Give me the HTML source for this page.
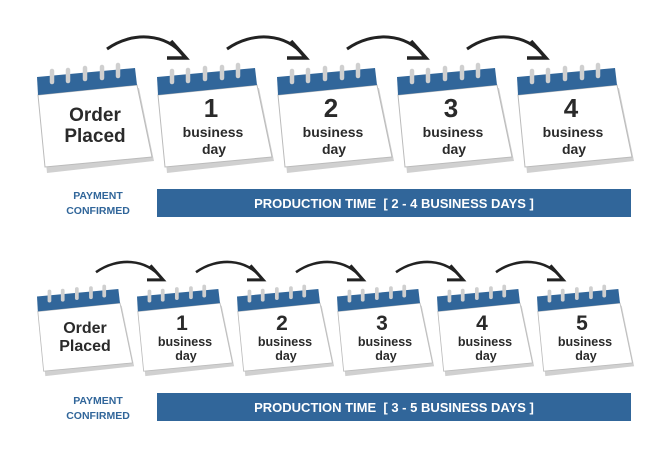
<!DOCTYPE html>
<html><head><style>body{margin:0;background:#fff}svg{display:block}</style></head><body>
<svg width="668" height="457" viewBox="0 0 668 457" xmlns="http://www.w3.org/2000/svg" font-family="'Liberation Sans',sans-serif">
<defs>
<g id="cal">
  <polygon points="3,30 102,20 117,93 10,105" fill="#d0d0d0"/>
  <polygon points="1,27 100,17 115,89 8,99" fill="#fff" stroke="#bbb" stroke-width="1"/>
  <polygon points="0,9 98,0 100,17 1,27" fill="#31669a"/>
  <g stroke="#cfcfcf" stroke-width="4.5" stroke-linecap="round">
    <line x1="15" y1="3" x2="15" y2="14"/>
    <line x1="31" y1="2" x2="31" y2="13"/>
    <line x1="48" y1="0" x2="48" y2="11"/>
    <line x1="65" y1="-1" x2="65" y2="10"/>
    <line x1="81" y1="-3" x2="81" y2="8"/>
  </g>
</g>
<g id="arr">
  <path d="M0,12 C25,-6 60,-4 77,19" fill="none" stroke="#222" stroke-width="3"/>
  <path d="M64,4 L79,21 L60,21" fill="none" stroke="#222" stroke-width="3.5"/>
</g>
</defs>

<g fill="#2a2a2a" font-weight="bold" text-anchor="middle">
<use href="#cal" x="37" y="68"/>
<use href="#cal" x="157" y="68"/>
<use href="#cal" x="277" y="68"/>
<use href="#cal" x="397" y="68"/>
<use href="#cal" x="517" y="68"/>
<use href="#arr" x="107" y="37"/>
<use href="#arr" x="227" y="37"/>
<use href="#arr" x="347" y="37"/>
<use href="#arr" x="467" y="37"/>
<text x="95" y="121" font-size="19">Order</text>
<text x="95" y="142" font-size="19">Placed</text>
<g font-size="26"><text x="211" y="117">1</text><text x="331" y="117">2</text><text x="451" y="117">3</text><text x="571" y="117">4</text></g>
<g font-size="14"><text x="213" y="137">business</text><text x="333" y="137">business</text><text x="453" y="137">business</text><text x="573" y="137">business</text>
<text x="214" y="154">day</text><text x="334" y="154">day</text><text x="454" y="154">day</text><text x="574" y="154">day</text></g>
</g>
<text x="98" y="199" font-size="10.5" font-weight="bold" fill="#31669a" text-anchor="middle">PAYMENT</text>
<text x="98" y="214" font-size="10.5" font-weight="bold" fill="#31669a" text-anchor="middle">CONFIRMED</text>
<rect x="157" y="189" width="474" height="28" fill="#31669a"/>
<text x="394" y="208" font-size="13" font-weight="bold" fill="#fff" text-anchor="middle" xml:space="preserve">PRODUCTION TIME  [ 2 - 4 BUSINESS DAYS ]</text>

<g fill="#2a2a2a" font-weight="bold" text-anchor="middle">
<g transform="translate(37,289) scale(0.83)"><use href="#cal"/></g>
<g transform="translate(137,289) scale(0.83)"><use href="#cal"/></g>
<g transform="translate(237,289) scale(0.83)"><use href="#cal"/></g>
<g transform="translate(337,289) scale(0.83)"><use href="#cal"/></g>
<g transform="translate(437,289) scale(0.83)"><use href="#cal"/></g>
<g transform="translate(537,289) scale(0.83)"><use href="#cal"/></g>
<g transform="translate(96,262) scale(0.85)"><use href="#arr"/></g>
<g transform="translate(196,262) scale(0.85)"><use href="#arr"/></g>
<g transform="translate(296,262) scale(0.85)"><use href="#arr"/></g>
<g transform="translate(396,262) scale(0.85)"><use href="#arr"/></g>
<g transform="translate(496,262) scale(0.85)"><use href="#arr"/></g>
<text x="85" y="333" font-size="16">Order</text>
<text x="85" y="351" font-size="16">Placed</text>
<g font-size="21"><text x="182" y="330">1</text><text x="282" y="330">2</text><text x="382" y="330">3</text><text x="482" y="330">4</text><text x="582" y="330">5</text></g>
<g font-size="12.5"><text x="185" y="346">business</text><text x="285" y="346">business</text><text x="385" y="346">business</text><text x="485" y="346">business</text><text x="585" y="346">business</text>
<text x="186" y="360">day</text><text x="286" y="360">day</text><text x="386" y="360">day</text><text x="486" y="360">day</text><text x="586" y="360">day</text></g>
</g>
<text x="98" y="404" font-size="10.5" font-weight="bold" fill="#31669a" text-anchor="middle">PAYMENT</text>
<text x="98" y="419" font-size="10.5" font-weight="bold" fill="#31669a" text-anchor="middle">CONFIRMED</text>
<rect x="157" y="393" width="474" height="28" fill="#31669a"/>
<text x="394" y="412" font-size="13" font-weight="bold" fill="#fff" text-anchor="middle" xml:space="preserve">PRODUCTION TIME  [ 3 - 5 BUSINESS DAYS ]</text>
</svg>
</body></html>
